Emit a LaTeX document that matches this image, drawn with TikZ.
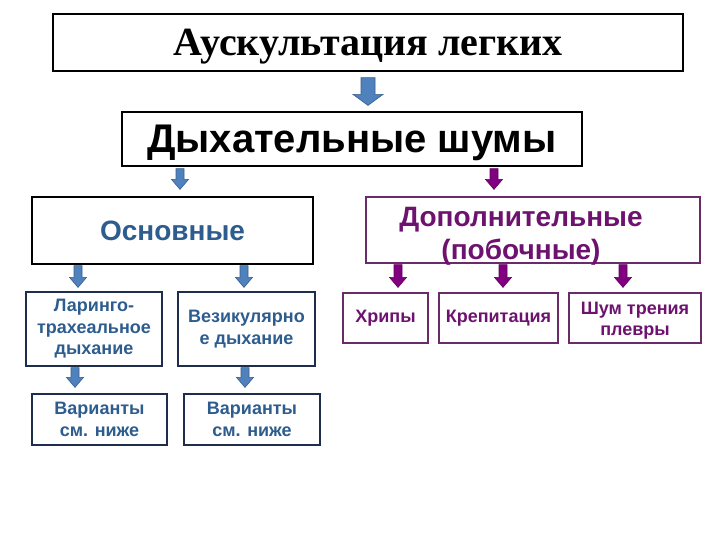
\documentclass[tikz,border=0pt]{standalone}
\usepackage{fontspec}
\setmainfont{Liberation Serif}
\setsansfont{Liberation Sans}
\usetikzlibrary{calc}
\definecolor{txtblue}{HTML}{2D5C8E}
\definecolor{txtpurple}{HTML}{6E1270}
\definecolor{boxnavy}{HTML}{1F2D4D}
\definecolor{boxpurple}{HTML}{6B2B6B}
\definecolor{arrblue}{HTML}{4F81BD}
\definecolor{arrblueline}{HTML}{385D8A}
\definecolor{arrpurple}{HTML}{800080}
\definecolor{arrpurpleline}{HTML}{600060}
\tikzset{
  box/.style={draw, line width=1.2pt, fill=white, inner sep=0pt, align=center, rectangle},
  bluearr/.style={fill=arrblue, draw=arrblueline, line width=0.6pt},
  purplearr/.style={fill=arrpurple, draw=arrpurpleline, line width=0.6pt},
  smallblue/.style={font=\sffamily\bfseries\fontsize{18}{21.5}\selectfont, text=txtblue},
  smallpurple/.style={font=\sffamily\bfseries\fontsize{18}{21}\selectfont, text=txtpurple},
}
% #1 src, #2 tgt, #3 xshift from tgt.north, #4 top gap, #5 bottom gap, #6 style, #7 half shaft, #8 half head, #9 head length
\newcommand\blockarr[9]{%
  \path let \p1=([xshift=#3]#2.north), \p2=(#1.south) in
    [#6] (\x1-#7,\y2-#4) -- (\x1-#7,\y1+#5+#9) -- (\x1-#8,\y1+#5+#9) -- (\x1,\y1+#5)
    -- (\x1+#8,\y1+#5+#9) -- (\x1+#7,\y1+#5+#9) -- (\x1+#7,\y2-#4) -- cycle;}
\begin{document}
\begin{tikzpicture}[x=1pt,y=-1pt]
\useasboundingbox[fill=white] (0,0) rectangle (720,540);

\node[box, draw=black, minimum width=630pt, minimum height=57pt, text depth=0pt,
  font=\rmfamily\bfseries\fontsize{40}{44}\selectfont] (t) at (368,42.5) {Аускультация легких};
\node[box, draw=black, minimum width=460pt, minimum height=54pt, text depth=0pt,
  font=\sffamily\bfseries\fontsize{40}{44}\selectfont] (d) at (352,139) {Дыхательные шумы};

\node[box, draw=black, minimum width=281pt, minimum height=67pt, text=txtblue,
  font=\sffamily\bfseries\fontsize{28}{33}\selectfont] (o) at (172.5,230.5) {Основные};
\node[box, draw=boxpurple, minimum width=334pt, minimum height=66pt] (p) at (533,230) {};
\node[align=center, inner sep=0pt, text=txtpurple,
  font=\sffamily\bfseries\fontsize{28}{33}\selectfont] (ptext) at ([xshift=-12pt,yshift=-6pt]p.center) {Дополнительные\\(побочные)};

\node[box, draw=boxnavy, smallblue, minimum width=136pt, minimum height=74pt] (l1) at (94,329) {Ларинго-\\трахеальное\\дыхание};
\node[box, draw=boxnavy, smallblue, minimum width=137pt, minimum height=74pt] (l2) at (246.5,329) {Везикулярно\\е дыхание};
\node[box, draw=boxnavy, smallblue, minimum width=135pt, minimum height=51pt] (v1) at (99.5,419.5) {Варианты\\см. ниже};
\node[box, draw=boxnavy, smallblue, minimum width=136pt, minimum height=51pt] (v2) at (252,419.5) {Варианты\\см. ниже};

\node[box, draw=boxpurple, smallpurple, minimum width=85pt, minimum height=50pt] (r1) at (385.5,318) {Хрипы};
\node[box, draw=boxpurple, smallpurple, minimum width=119pt, minimum height=50pt] (r2) at (498.5,318) {Крепитация};
\node[box, draw=boxpurple, minimum width=132pt, minimum height=50pt] (r3) at (635,318) {};
\node[align=center, inner sep=0pt, smallpurple] (r3text) at ([yshift=-3pt]r3.center) {Шум трения\\плевры};

\blockarr{t}{d}{16pt}{6pt}{6pt}{bluearr}{7pt}{15pt}{11pt}
\blockarr{d}{o}{7.5pt}{2pt}{7pt}{bluearr}{4pt}{8.5pt}{10pt}
\blockarr{d}{p}{-39pt}{2pt}{7pt}{purplearr}{4pt}{8.5pt}{10pt}
\blockarr{o}{l1}{-16pt}{1pt}{4pt}{bluearr}{4pt}{8.5pt}{10pt}
\blockarr{o}{l2}{-2.5pt}{1pt}{4pt}{bluearr}{4pt}{8.5pt}{10pt}
\blockarr{l1}{v1}{-24.5pt}{1pt}{6pt}{bluearr}{4pt}{8.5pt}{10pt}
\blockarr{l2}{v2}{-7pt}{1pt}{6pt}{bluearr}{4pt}{8.5pt}{10pt}
\blockarr{p}{r1}{12.5pt}{1pt}{5pt}{purplearr}{4pt}{8.5pt}{10pt}
\blockarr{p}{r2}{4.5pt}{1pt}{5pt}{purplearr}{4pt}{8.5pt}{10pt}
\blockarr{p}{r3}{-12pt}{1pt}{5pt}{purplearr}{4pt}{8.5pt}{10pt}
\end{tikzpicture}
\end{document}
